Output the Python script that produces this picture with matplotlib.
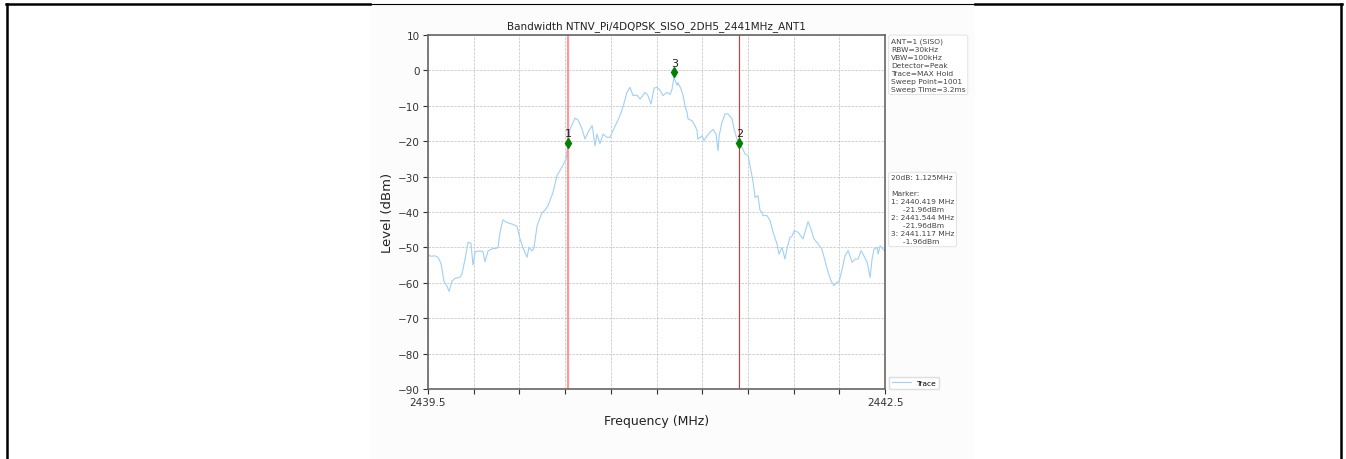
import numpy as np
import matplotlib
matplotlib.use("Agg")
import matplotlib.pyplot as plt
from matplotlib.lines import Line2D
from matplotlib.patches import Rectangle

# ---------------- data ----------------
freq = [2439.500, 2439.513, 2439.546, 2439.566, 2439.585, 2439.605, 2439.625, 2439.638,
        2439.658, 2439.677, 2439.710, 2439.723, 2439.743, 2439.763, 2439.782, 2439.795,
        2439.809, 2439.841, 2439.861, 2439.874, 2439.894, 2439.920, 2439.953, 2439.960,
        2439.973, 2439.992, 2440.019, 2440.051, 2440.084, 2440.104, 2440.124, 2440.150,
        2440.163, 2440.183, 2440.196, 2440.216, 2440.248, 2440.268, 2440.288, 2440.321,
        2440.347, 2440.380, 2440.406, 2440.419, 2440.432, 2440.465, 2440.485, 2440.511,
        2440.531, 2440.550, 2440.577, 2440.583, 2440.596, 2440.609, 2440.629, 2440.649,
        2440.675, 2440.695, 2440.714, 2440.741, 2440.760, 2440.780, 2440.806, 2440.826,
        2440.846, 2440.872, 2440.892, 2440.911, 2440.925, 2440.944, 2440.964, 2440.984,
        2441.003, 2441.023, 2441.043, 2441.069, 2441.089, 2441.102, 2441.115, 2441.135,
        2441.141, 2441.161, 2441.174, 2441.187, 2441.200, 2441.207, 2441.233, 2441.253,
        2441.266, 2441.272, 2441.299, 2441.312, 2441.332, 2441.351, 2441.371, 2441.391,
        2441.404, 2441.411, 2441.430, 2441.450, 2441.469, 2441.496, 2441.509, 2441.528,
        2441.542, 2441.561, 2441.581, 2441.601, 2441.614, 2441.627, 2441.634, 2441.647,
        2441.666, 2441.680, 2441.693, 2441.699, 2441.725, 2441.745, 2441.765, 2441.791,
        2441.804, 2441.824, 2441.830, 2441.843, 2441.856, 2441.876, 2441.890, 2441.903,
        2441.929, 2441.962, 2441.981, 2441.995, 2442.014, 2442.034, 2442.060, 2442.086,
        2442.106, 2442.126, 2442.146, 2442.165, 2442.185, 2442.198, 2442.219, 2442.238,
        2442.258, 2442.284, 2442.304, 2442.324, 2442.343, 2442.356, 2442.383, 2442.402,
        2442.415, 2442.428, 2442.448, 2442.455, 2442.468, 2442.487, 2442.500]
level = [-51.8, -52.5, -52.4, -52.8, -54.5, -59.5, -61.0, -62.4,
         -59.5, -58.8, -58.4, -57.5, -53.3, -48.6, -48.8, -55.0,
         -51.2, -51.0, -51.2, -54.0, -51.0, -50.4, -50.2, -50.0,
         -45.7, -42.2, -43.0, -43.4, -44.0, -47.6, -50.2, -52.8,
         -50.0, -51.0, -50.0, -43.9, -40.2, -39.5, -38.2, -34.4,
         -29.7, -27.3, -25.0, -20.8, -16.6, -13.5, -14.0, -16.5,
         -19.4, -17.5, -15.6, -17.0, -21.3, -18.0, -20.7, -18.0,
         -18.9, -18.9, -17.0, -14.6, -12.8, -10.3, -6.2, -4.8,
         -7.1, -7.0, -8.1, -7.0, -6.2, -7.1, -9.5, -5.0,
         -4.8, -5.6, -7.1, -6.2, -6.8, -5.3, -1.9, -4.3,
         -3.4, -5.3, -7.0, -10.0, -11.8, -13.7, -14.2, -15.6,
         -17.0, -19.4, -18.5, -19.8, -18.5, -17.5, -16.7, -18.0,
         -22.7, -18.5, -14.6, -12.3, -12.3, -13.7, -16.5, -19.4,
         -20.8, -21.7, -23.6, -24.0, -26.9, -29.7, -31.5, -35.9,
         -35.4, -39.6, -40.0, -41.0, -41.0, -42.4, -45.7, -49.0,
         -51.9, -50.0, -51.0, -53.3, -50.5, -47.2, -46.8, -45.3,
         -45.7, -47.6, -44.8, -42.7, -44.8, -47.6, -49.0, -50.5,
         -53.8, -57.0, -59.4, -60.8, -59.8, -59.8, -56.1, -52.3,
         -50.9, -54.2, -53.3, -53.3, -50.9, -51.9, -54.2, -58.5,
         -53.3, -50.5, -50.0, -51.9, -49.5, -50.5, -51.0]

marker_freq = [2440.419, 2441.544, 2441.117]
marker_level = [-20.4, -20.4, -0.5]
marker_names = ['1', '2', '3']

xticks = [2439.5 + 0.3 * i for i in range(11)]
xticklabels = ['2439.5'] + [''] * 9 + ['2442.5']
yticks = list(range(-90, 11, 10))

info_text = ("ANT=1 (SISO)\nRBW=30kHz\nVBW=100kHz\nDetector=Peak\n"
             "Trace=MAX Hold\nSweep Point=1001\nSweep Time=3.2ms")
marker_text = ("20dB: 1.125MHz\n\nMarker:\n1: 2440.419 MHz\n     -21.96dBm\n"
               "2: 2441.544 MHz\n     -21.96dBm\n3: 2441.117 MHz\n     -1.96dBm")

# ---------------- figure ----------------
W, H = 1346, 460
fig = plt.figure(figsize=(W / 100, H / 100), dpi=100)

# page frame and chart image background
fig.add_artist(Rectangle((370 / W, 0), 605 / W, 1 - 6 / H, transform=fig.transFigure,
                         facecolor='#fcfcfc', edgecolor='none', zorder=0))
fig.add_artist(Line2D([6.5 / W, 6.5 / W], [0, 1 - 4.5 / H], color='black', lw=1.8))
fig.add_artist(Line2D([1341 / W, 1341 / W], [0, 1 - 4.5 / H], color='black', lw=1.8))
fig.add_artist(Line2D([6 / W, 370 / W], [1 - 5 / H, 1 - 5 / H], color='black', lw=1.8))
fig.add_artist(Line2D([975 / W, 1342 / W], [1 - 5 / H, 1 - 5 / H], color='black', lw=1.8))
fig.add_artist(Line2D([370 / W, 975 / W], [1 - 4.5 / H, 1 - 4.5 / H], color='black', lw=0.8))

ax = fig.add_axes([428 / W, 70 / H, 457 / W, 354 / H])
ax.set_facecolor('white')

ax.plot(freq, level, color='#9fd0f7', lw=0.8, label='Trace')
ax.axvline(marker_freq[0], color='#ff8080', lw=1.6, alpha=0.8)
ax.axvline(marker_freq[1], color='#e83030', lw=0.8)
ax.plot(marker_freq, marker_level, 'd', color='green', markersize=5, linestyle='none')
for f, l, n in zip(marker_freq, marker_level, marker_names):
    ax.text(f, l + 1.2, n, ha='center', va='bottom', fontsize=8, color='#222222')

ax.set_xlim(2439.5, 2442.5)
ax.set_ylim(-90, 10)
ax.set_xticks(xticks)
ax.set_xticklabels(xticklabels)
ax.set_yticks(yticks)
ax.tick_params(labelsize=7.5, length=3.5, width=0.8, colors='#333333', pad=2.5)
ax.grid(True, linestyle='--', linewidth=0.5, color='#c0c0c0')
for s in ax.spines.values():
    s.set_color('#666666')
    s.set_linewidth(1.2)

ax.set_title('Bandwidth NTNV_Pi/4DQPSK_SISO_2DH5_2441MHz_ANT1', fontsize=7.5, color='#222222', pad=5)
ax.set_xlabel('Frequency (MHz)', fontsize=9, color='#222222', labelpad=5)
ax.set_ylabel('Level (dBm)', fontsize=9.5, color='#222222', labelpad=3)

box = dict(boxstyle='round,pad=0.3', facecolor='white', edgecolor='#dddddd', lw=0.6)
ax.text(1.013, 0.992, info_text, transform=ax.transAxes, fontsize=5.4, color='#444444',
        va='top', ha='left', linespacing=1.4, bbox=box)
ax.text(1.013, 0.606, marker_text, transform=ax.transAxes, fontsize=5.4, color='#444444',
        va='top', ha='left', linespacing=1.4, bbox=box)
ax.legend(loc='lower left', bbox_to_anchor=(1.0, -0.01), fontsize=5.4, frameon=True,
          framealpha=1, edgecolor='#dddddd', handlelength=2.5)

plt.savefig('out.png', dpi=100)
